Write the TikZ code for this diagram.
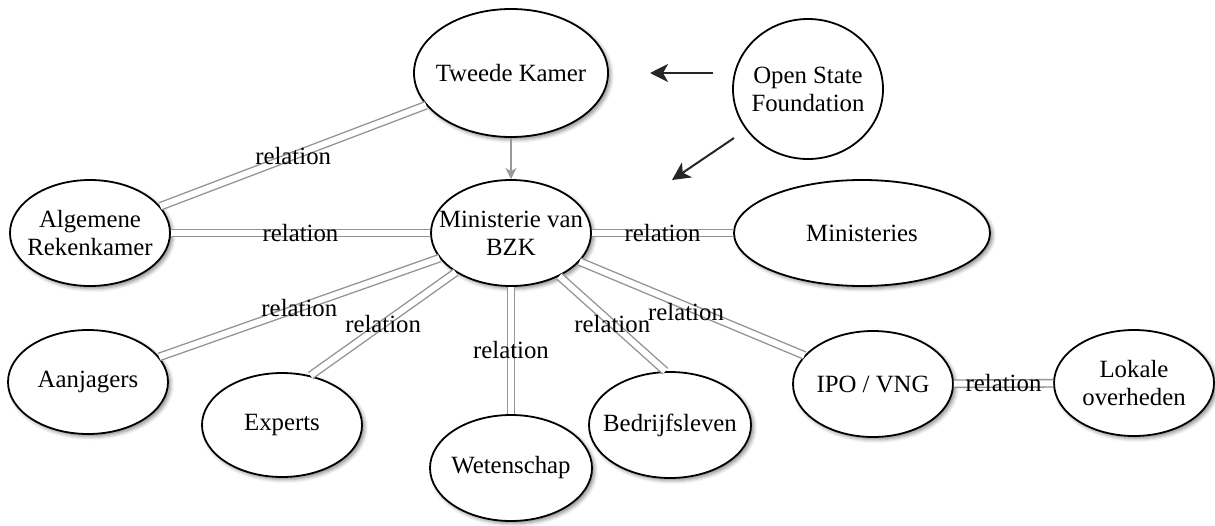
\documentclass[tikz,border=0pt]{standalone}
\usepackage{fontspec}
\setmainfont{Liberation Serif}
\usetikzlibrary{shapes.geometric,shadows.blur,arrows.meta}
\begin{document}
\begin{tikzpicture}[x=0.5pt,y=-0.5pt,
  txt/.style={font=\fontsize{12.4}{14}\selectfont},
  every label/.style={txt, align=center, inner sep=0pt},
  ent/.style={ellipse, draw=black, line width=0.9pt, fill=white, inner sep=0pt,
    blur shadow={shadow xshift=1.3pt, shadow yshift=-1.3pt, shadow blur steps=4, shadow opacity=45}},
  plain/.style={ellipse, draw=black, line width=0.9pt, fill=white, inner sep=0pt},
  rel/.style={draw=black!42, line width=0.7pt, double=white, double distance=3pt},
  lab/.style={txt, midway, inner sep=0pt},
  osfarrow/.style={draw=black!85, line width=1pt, -{Stealth[length=9pt,width=9pt,inset=2.5pt]}},
  grayarrow/.style={draw=black!40, line width=0.8pt, -{Stealth[length=5.5pt,width=5.5pt,inset=1.5pt]}}
]
\useasboundingbox (0,0) rectangle (1215,525);

\node[ent, minimum width=97pt, minimum height=64pt, label={center:Tweede Kamer}] (tk) at (511,73) {};
\node[plain, minimum width=75pt, minimum height=70pt, label={center:Open State\\Foundation}] (osf) at (808,89) {};
\node[ent, minimum width=80pt, minimum height=53pt, label={center:Ministerie van\\BZK}] (bzk) at (511,233) {};
\node[ent, minimum width=80pt, minimum height=53pt, label={center:Algemene\\Rekenkamer}] (ar) at (90,233) {};
\node[ent, minimum width=128pt, minimum height=53pt, label={center:Ministeries}] (min) at (862,233) {};
\node[ent, minimum width=80pt, minimum height=52pt, label={center:Aanjagers}] (aan) at (88,382) {};
\node[ent, minimum width=80pt, minimum height=52pt, label={center:Experts}] (exp) at (282,425) {};
\node[ent, minimum width=81pt, minimum height=53pt, label={center:Wetenschap}] (wet) at (511,468) {};
\node[ent, minimum width=81pt, minimum height=53pt, label={center:Bedrijfsleven}] (bed) at (670,425) {};
\node[ent, minimum width=80pt, minimum height=53pt, label={center:IPO / VNG}] (ipo) at (873,384) {};
\node[ent, minimum width=80pt, minimum height=53pt, label={center:Lokale\\overheden}] (lok) at (1134,383) {};

\coordinate (c1s) at (713,73);
\coordinate (c1e) at (650,73);
\coordinate (c2s) at (734,138);
\coordinate (c2e) at (672,180);

\draw[rel] (tk) -- (ar) node[lab] {relation};
\draw[rel] (ar) -- (bzk) node[lab] {relation};
\draw[rel] (bzk) -- (min) node[lab] {relation};
\draw[rel] (bzk) -- (aan) node[lab] {relation};
\draw[rel] (bzk) -- (exp.60) node[lab] {relation};
\draw[rel] (bzk.south) -- (wet.north) node[lab] {relation};
\draw[rel] (bzk) -- (bed.95) node[lab] {relation};
\draw[rel] (bzk) -- (ipo) node[lab, xshift=-3pt, yshift=-2pt] {relation};
\draw[rel] (ipo) -- (lok) node[lab] {relation};

\draw[grayarrow] (tk.south) -- (bzk.north);
\draw[osfarrow] (c1s) -- (c1e);
\draw[osfarrow] (c2s) -- (c2e);
\end{tikzpicture}
\end{document}
